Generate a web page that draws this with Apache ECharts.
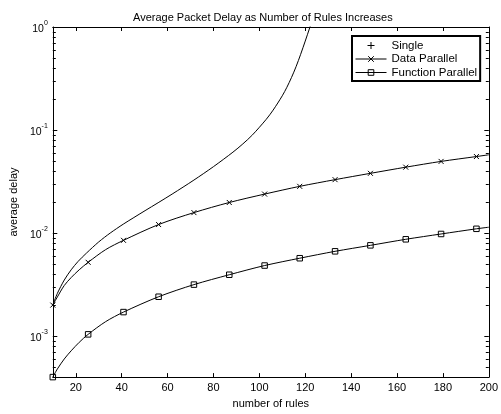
<!DOCTYPE html>
<html><head><meta charset="utf-8">
<script src="https://cdn.jsdelivr.net/npm/echarts@6/dist/echarts.min.js"></script>
<style>html,body{margin:0;padding:0;background:#fff}#c{width:501px;height:414px}</style>
</head><body><div id="c"></div>
<script>
// ---- data ----
const titleText = 'Average Packet Delay as Number of Rules Increases';
const xName = 'number of rules';
const yName = 'average delay';
const seriesNames = ['Single', 'Data Parallel', 'Function Parallel'];

const xTickValues = [20, 40, 60, 80, 100, 120, 140, 160, 180, 200];
const yMajorValues = [0.001, 0.01, 0.1, 1];
const yTickExponents = ['-3', '-2', '-1', '0'];
const yMinorValues = [0.0005, 0.0006, 0.0007, 0.0008, 0.0009,
  0.002, 0.003, 0.004, 0.005, 0.006, 0.007, 0.008, 0.009,
  0.02, 0.03, 0.04, 0.05, 0.06, 0.07, 0.08, 0.09,
  0.2, 0.3, 0.4, 0.5, 0.6, 0.7, 0.8, 0.9];

const singleX = [10, 12, 15, 18, 21, 24.7, 30, 35, 40.7, 45, 50.2, 55.9, 62, 71.5, 80, 88.5, 92.8, 97, 103, 106, 110, 112, 114, 116, 118, 120, 122, 123.5];
const singleY = [0.002, 0.0026, 0.0035, 0.0044, 0.0053, 0.0064, 0.0082, 0.0100, 0.0122, 0.0140, 0.0165, 0.0197, 0.0239, 0.0327, 0.0441, 0.0610, 0.0733, 0.0897, 0.127, 0.156, 0.215, 0.260, 0.323, 0.412, 0.543, 0.730, 0.99, 1.25];

const dataParallelX = [10, 12, 15, 18, 21.5, 25.4, 33, 40.8, 56.1, 71.5, 86.9, 102.3, 117.6, 133, 148.4, 163.8, 179.2, 194.6, 200];
const dataParallelY = [0.002, 0.0024, 0.0031, 0.0037, 0.0044, 0.0052, 0.0069, 0.0085, 0.0121, 0.0158, 0.0198, 0.0239, 0.0284, 0.033, 0.038, 0.0436, 0.0496, 0.0553, 0.0575];
const dataParallelMarker = [1, 0, 0, 0, 0, 1, 0, 1, 1, 1, 1, 1, 1, 1, 1, 1, 1, 1, 0];

const functionParallelX = [10, 12, 15, 18, 21.5, 25.4, 33, 40.8, 56.1, 71.5, 86.9, 102.3, 117.6, 133, 148.4, 163.8, 179.2, 194.6, 200];
const functionParallelY = [0.0004, 0.00048, 0.0006, 0.00072, 0.00087, 0.00104, 0.00138, 0.00171, 0.00241, 0.00316, 0.00394, 0.00484, 0.0057, 0.00665, 0.0076, 0.0087, 0.0098, 0.0110, 0.0114];
const functionParallelMarker = [1, 0, 0, 0, 0, 1, 0, 1, 1, 1, 1, 1, 1, 1, 1, 1, 1, 1, 0];

// ---- chart ----
const FONT = '"Liberation Sans", Arial, Helvetica, sans-serif';
const X_PATH = 'path://M0,0L10,10M10,0L0,10';
const PLUS_PATH = 'path://M5,0L5,10M0,5L10,5';

function pts(xs, ys, marks) {
  return xs.map((x, i) => {
    const item = { value: [x, ys[i]] };
    if (marks && !marks[i]) item.symbol = 'none';
    return item;
  });
}

const chart = echarts.init(document.getElementById('c'), null, { renderer: 'canvas' });

const tickStyle = { color: '#000', width: 1 };
const lineBox = { show: true, onZero: false, lineStyle: { color: '#000', width: 1 } };

chart.setOption({
  animation: false,
  backgroundColor: '#fff',
  title: {
    text: titleText, left: 128, top: 7,
    textStyle: { fontFamily: FONT, fontSize: 11, fontWeight: 'normal', color: '#000' }
  },
  grid: { left: 45, right: 9, top: 27, bottom: 35, containLabel: false },
  legend: {
    orient: 'vertical', left: 352, top: 36,
    padding: [3, 3, 2, 3],
    backgroundColor: '#fff', borderColor: '#000', borderWidth: 2, borderRadius: 0,
    itemWidth: 31, itemHeight: 7, itemGap: 0.5,
    selectedMode: false,
    textStyle: { fontFamily: FONT, fontSize: 11.5, color: '#000', lineHeight: 13 },
    itemStyle: { color: 'transparent', borderColor: '#000', borderWidth: 1 },
    lineStyle: { color: '#000', width: 1 },
    data: [
      { name: seriesNames[0], icon: PLUS_PATH },
      { name: seriesNames[1] },
      { name: seriesNames[2] }
    ]
  },
  xAxis: [
    {
      type: 'value', min: 10, max: 200, position: 'bottom',
      axisLine: lineBox,
      axisTick: { show: true, inside: true, length: 4, customValues: xTickValues, lineStyle: tickStyle },
      axisLabel: { customValues: xTickValues, margin: 5, fontFamily: FONT, fontSize: 11, color: '#000' },
      splitLine: { show: false },
      name: xName, nameLocation: 'middle', nameGap: 19,
      nameTextStyle: { fontFamily: FONT, fontSize: 11, color: '#000' }
    },
    {
      type: 'value', min: 10, max: 200, position: 'top',
      axisLine: lineBox,
      axisTick: { show: true, inside: true, length: 4, customValues: xTickValues, lineStyle: tickStyle },
      axisLabel: { show: false },
      splitLine: { show: false }
    }
  ],
  yAxis: [
    {
      type: 'log', logBase: 10, min: 0.0004, max: 1, position: 'left',
      axisLine: lineBox,
      axisTick: { show: true, inside: true, length: 4.5, lineStyle: tickStyle },
      axisLabel: {
        showMinLabel: false, margin: 5,
        formatter: function (v) {
          const i = yMajorValues.findIndex(t => Math.abs(Math.log10(t) - Math.log10(v)) < 1e-6);
          if (i < 0) return '';
          return '{b|10}{s|' + yTickExponents[i] + '}';
        },
        rich: {
          b: { fontFamily: FONT, fontSize: 10.5, color: '#000', padding: [4, 0, 0, 0] },
          s: { fontFamily: FONT, fontSize: 7, color: '#000', verticalAlign: 'top' }
        }
      },
      splitLine: { show: false },
      name: yName, nameLocation: 'middle', nameGap: 28,
      nameTextStyle: { fontFamily: FONT, fontSize: 11, color: '#000' }
    },
    {
      type: 'log', logBase: 10, min: 0.0004, max: 1, position: 'right',
      axisLine: lineBox,
      axisTick: { show: true, inside: true, length: 4.5, lineStyle: tickStyle },
      axisLabel: { show: false },
      splitLine: { show: false }
    }
  ],
  series: [
    {
      name: seriesNames[0], type: 'line', xAxisIndex: 0, yAxisIndex: 0,
      data: pts(singleX, singleY, null),
      symbol: 'none', smooth: 0.3, clip: true, silent: true,
      lineStyle: { color: '#000', width: 1 },
      itemStyle: { color: '#000' }
    },
    {
      name: seriesNames[1], type: 'line', xAxisIndex: 0, yAxisIndex: 0,
      data: pts(dataParallelX, dataParallelY, dataParallelMarker),
      symbol: X_PATH, symbolSize: 5, showAllSymbol: true,
      smooth: 0.3, clip: false, silent: true,
      lineStyle: { color: '#000', width: 1 },
      itemStyle: { color: 'transparent', borderColor: '#000', borderWidth: 1 }
    },
    {
      name: seriesNames[2], type: 'line', xAxisIndex: 0, yAxisIndex: 0,
      data: pts(functionParallelX, functionParallelY, functionParallelMarker),
      symbol: 'rect', symbolSize: 5.5, showAllSymbol: true,
      smooth: 0.3, clip: false, silent: true,
      lineStyle: { color: '#000', width: 1 },
      itemStyle: { color: 'transparent', borderColor: '#000', borderWidth: 1 }
    }
  ]
});

// minor log ticks (positions from the library's own y scale)
(function addMinorTicks() {
  const xl = chart.convertToPixel({ xAxisIndex: 0 }, 10);
  const xr = chart.convertToPixel({ xAxisIndex: 0 }, 200);
  const g = [];
  yMinorValues.forEach(v => {
    const y = Math.round(chart.convertToPixel({ yAxisIndex: 0 }, v)) + 0.5;
    g.push({ type: 'line', silent: true, z: 10, shape: { x1: xl, y1: y, x2: xl + 3, y2: y }, style: { stroke: '#000', lineWidth: 1 } });
    g.push({ type: 'line', silent: true, z: 10, shape: { x1: xr - 3, y1: y, x2: xr, y2: y }, style: { stroke: '#000', lineWidth: 1 } });
  });
  chart.setOption({ graphic: g });
})();
</script>
</body></html>
